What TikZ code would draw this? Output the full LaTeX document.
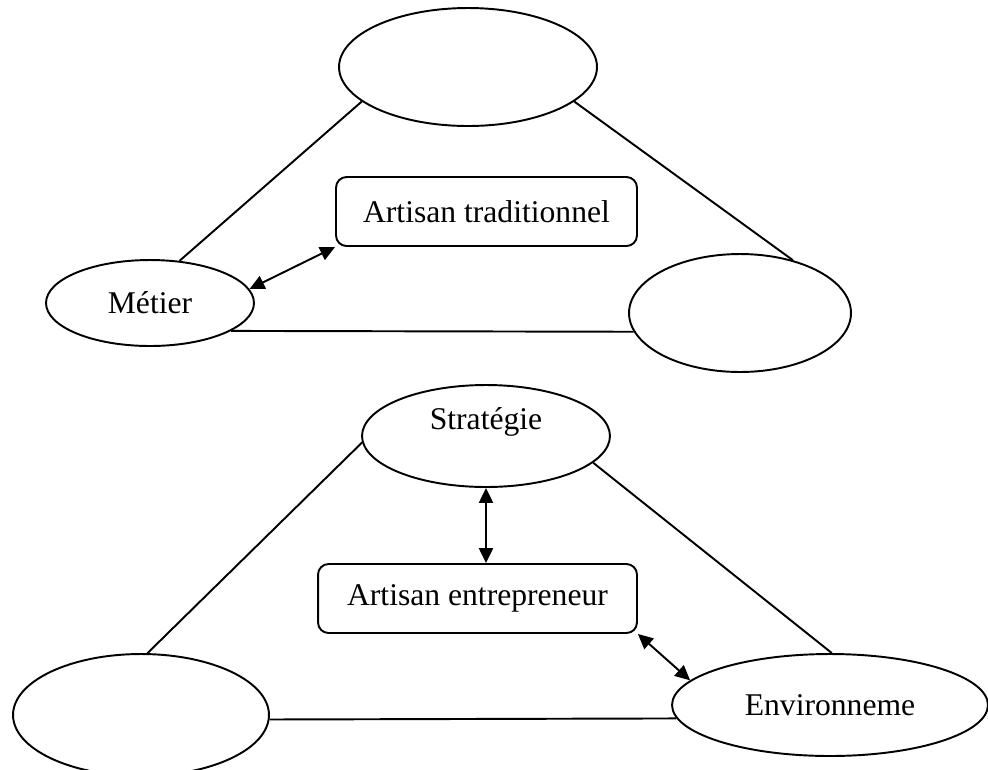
\documentclass[tikz,border=0pt]{standalone}
\usepackage{fontspec}
\setmainfont{Liberation Serif}
\usepackage{tikz}
\usetikzlibrary{shapes.geometric,arrows.meta,calc}

\begin{document}
\begin{tikzpicture}[x=0.02cm, y=-0.02cm, line width=1.1pt,
	every node/.style={font=\fontsize{18}{22}\selectfont},
	ell/.style={draw, ellipse, inner sep=0pt},
	cadre/.style={draw, rounded corners=6pt, inner sep=0pt},
	fl/.style={{Triangle[length=8.5pt,width=8pt]}-{Triangle[length=8.5pt,width=8pt]}}]
	\useasboundingbox (0,0) rectangle (988,769);
	% artisan traditionnel
	\node[ell, minimum width=5.16cm, minimum height=2.36cm] (haut) at (468,67) {};
	\node[ell, minimum width=4.16cm, minimum height=1.72cm] (metier) at (150,303) {Métier};
	\node[ell, minimum width=4.44cm, minimum height=2.36cm] (droite) at (740,313) {};
	\node[cadre, minimum width=6.02cm, minimum height=1.38cm] (trad) at (486.5,211.5) {Artisan traditionnel};
	\draw (haut.198) -- (metier.55);
	\draw (haut.342) -- (droite.45);
	\draw (metier.-19) -- (droite.190);
	\draw[fl] (metier.8) -- (trad.south west);
	% artisan entrepreneur
	\node[ell, minimum width=4.96cm, minimum height=2.04cm] (strat) at (486,436) {\raisebox{8pt}[\height][\depth]{Stratégie}};
	\node[cadre, minimum width=6.38cm, minimum height=1.38cm] (entr) at (477.5,598.5) {Artisan entrepreneur};
	\node[ell, minimum width=5.12cm, minimum height=2.44cm] (gauche) at (141,715) {};
	\node[ell, minimum width=6.32cm, minimum height=2.04cm] (env) at (830,705) {Environneme};
	\draw (strat.183) -- (gauche.84);
	\draw (strat.-14) -- (env.88);
	\draw (gauche.-2) -- (env.185);
	\draw[fl] (strat.south) -- (strat.south |- entr.north);
	\draw[fl] (entr.south east) -- (env.170);
\end{tikzpicture}
\end{document}
